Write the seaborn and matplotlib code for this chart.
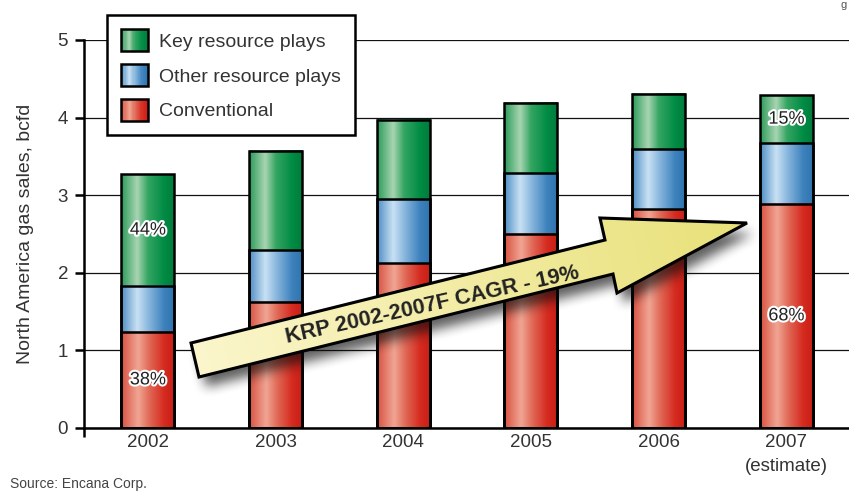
import numpy as np
import pandas as pd
import matplotlib
matplotlib.use("Agg")
import matplotlib.pyplot as plt
import seaborn as sns
from matplotlib.colors import LinearSegmentedColormap, to_rgb
from matplotlib.patches import Polygon, Rectangle, Patch
from matplotlib.legend_handler import HandlerBase
from matplotlib.path import Path
import matplotlib.patheffects as pe
from matplotlib import font_manager

# ---------------- data ----------------
years = ["2002", "2003", "2004", "2005", "2006", "2007"]
year_labels = ["2002", "2003", "2004", "2005", "2006", "2007\n(estimate)"]
conventional = [1.24, 1.63, 2.12, 2.50, 2.82, 2.89]
other_resource = [0.59, 0.66, 0.83, 0.78, 0.77, 0.78]
key_resource = [1.44, 1.28, 1.02, 0.91, 0.72, 0.62]
series_names = ["Key resource plays", "Other resource plays", "Conventional"]
share_years = ["2002", "2002", "2007", "2007"]
share_series = ["Conventional", "Key resource plays", "Conventional", "Key resource plays"]
share_text = ["38%", "44%", "68%", "15%"]
y_ticks = [0, 1, 2, 3, 4, 5]
y_label = "North America gas sales, bcfd"
arrow_text = "KRP 2002-2007F CAGR - 19%"
source_text = "Source: Encana Corp."

# ---------------- style ----------------
sns.set_theme(style="white")
plt.rcParams["font.family"] = ["Liberation Sans", "DejaVu Sans"]
names = {f.name for f in font_manager.fontManager.ttflist}
narrow = "Liberation Sans Narrow" if "Liberation Sans Narrow" in names else None

W, H = 849, 493
fig = plt.figure(figsize=(W / 100, H / 100), dpi=100)
fig.patch.set_facecolor("white")
ax = fig.add_axes([84 / W, 65 / H, (W - 84) / W, 388 / H])

df = pd.DataFrame({"year": years, "conv": conventional,
                   "other": other_resource, "key": key_resource})
df["mid"] = df["conv"] + df["other"]
df["total"] = df["mid"] + df["key"]

cmaps = {
    "Key resource plays": LinearSegmentedColormap.from_list(
        "g", [(0, "#2a9a58"), (0.3, "#a8d5b2"), (0.5, "#35a563"), (0.8, "#008c45"), (1, "#007b3b")]),
    "Other resource plays": LinearSegmentedColormap.from_list(
        "b", [(0, "#4c8dc4"), (0.3, "#c9e1f4"), (0.52, "#86b5dc"), (0.8, "#3d82bd"), (1, "#2f73ad")]),
    "Conventional": LinearSegmentedColormap.from_list(
        "r", [(0, "#d8503f"), (0.32, "#f1a594"), (0.52, "#e16a58"), (0.8, "#d52b20"), (1, "#c61d16")]),
}
cols = [("total", "Key resource plays"), ("mid", "Other resource plays"), ("conv", "Conventional")]

for col, name in cols:
    sns.barplot(data=df, x="year", y=col, color=cmaps[name](0.5), saturation=1,
                width=0.415, edgecolor="black", linewidth=1.8, ax=ax)

grad = np.linspace(0, 1, 256).reshape(1, -1)
n = len(years)
for k, (col, name) in enumerate(cols):
    for p in ax.patches[k * n:(k + 1) * n]:
        x0, y0, w, h = p.get_x(), p.get_y(), p.get_width(), p.get_height()
        ax.imshow(grad, cmap=cmaps[name], extent=(x0, x0 + w, y0, y0 + h),
                  aspect="auto", zorder=2 + 0.1 * k, interpolation="bicubic")
        p.set_facecolor("none")
        p.set_zorder(3)

ax.set_xlim(-0.5, 5.49)
ax.set_ylim(0, 5)
ax.set_yticks(y_ticks)
ax.set_xticks(range(n))
ax.set_xticklabels(year_labels, linespacing=1.55)
ax.set_xlabel("")
ax.set_ylabel(y_label, fontsize=14, color="#333333")
ax.yaxis.set_label_coords(-0.066, 0.5)
ax.yaxis.grid(True, color="#111111", linewidth=0.9)
ax.xaxis.grid(False)
ax.set_axisbelow(True)
for s in ["top", "right"]:
    ax.spines[s].set_visible(False)
for s in ["left", "bottom"]:
    ax.spines[s].set_color("black")
    ax.spines[s].set_linewidth(1.8)
ax.tick_params(axis="y", left=True, length=6.5, width=1.8, color="black",
               pad=5.0, labelsize=13.5, labelcolor="#333333")
ax.tick_params(axis="x", bottom=False, length=0, pad=4, labelsize=13.5, labelcolor="#333333")
ax.plot([0, 0], [-0.024, 0], transform=ax.transAxes, color="black", lw=1.8,
        clip_on=False, solid_capstyle="butt")

# share labels
for yr, ser, txt in zip(share_years, share_series, share_text):
    i = years.index(yr)
    if ser == "Conventional":
        yv = df["conv"][i] / 2
    else:
        yv = df["mid"][i] + df["key"][i] / 2
    ax.text(i, yv, txt, ha="center", va="center", fontsize=13, color="#222222", zorder=6,
            path_effects=[pe.withStroke(linewidth=3, foreground="white")])

# legend with gradient handles
class GradientHandler(HandlerBase):
    def __init__(self, cmap):
        super().__init__()
        self.cmap = cmap

    def create_artists(self, legend, orig_handle, xdescent, ydescent, width, height, fontsize, trans):
        m = 24
        arts = []
        x0, y0 = -xdescent, -ydescent
        for i in range(m):
            arts.append(Rectangle((x0 + i * width / m, y0), width / m * 1.3, height,
                                  facecolor=self.cmap((i + 0.5) / m), edgecolor="none",
                                  transform=trans))
        arts.append(Rectangle((x0, y0), width, height, facecolor="none",
                              edgecolor="black", lw=1.8, transform=trans))
        return arts

handles = [Patch(label=nm) for nm in series_names]
hmap = {h: GradientHandler(cmaps[nm]) for h, nm in zip(handles, series_names)}
leg = ax.legend(handles=handles, labels=series_names, handler_map=hmap,
                loc="upper left", bbox_to_anchor=(107 / W, 1 - 15 / H),
                bbox_transform=fig.transFigure, borderaxespad=0, frameon=True,
                fancybox=False, edgecolor="black", facecolor="white", framealpha=1,
                fontsize=14, handlelength=1.4, handleheight=1.4, handletextpad=0.55,
                labelspacing=0.64, borderpad=0.72)
leg.get_frame().set_linewidth(1.8)
for t in leg.get_texts():
    t.set_color("#333333")
leg.set_zorder(10)

# ---------------- overlay (arrow, notes) ----------------
ov = fig.add_axes([0, 0, 1, 1], zorder=5)
ov.set_xlim(0, W)
ov.set_ylim(H, 0)
ov.axis("off")
ov.patch.set_alpha(0)

pts = np.array([(191, 343), (605, 240), (600, 218), (747, 223),
                (617, 293), (613, 274), (199, 377)], dtype=float)

# soft shadow
yy, xx = np.mgrid[0:H, 0:W]
spath = Path(pts + np.array([7, 10]))
mask = spath.contains_points(np.c_[xx.ravel() + 0.5, yy.ravel() + 0.5]).reshape(H, W).astype(float)

def box_blur(a, r):
    k = np.ones(2 * r + 1) / (2 * r + 1)
    a = np.apply_along_axis(lambda v: np.convolve(v, k, mode="same"), 1, a)
    a = np.apply_along_axis(lambda v: np.convolve(v, k, mode="same"), 0, a)
    return a

blur = box_blur(box_blur(mask, 6), 6)
shadow = np.zeros((H, W, 4))
shadow[..., 0:3] = 0.05
shadow[..., 3] = blur * 0.65
ov.imshow(shadow, extent=(0, W, H, 0), zorder=1, interpolation="bilinear")

# gradient fill clipped to arrow
u = np.array([415.0, -103.0]); u /= np.linalg.norm(u)
proj = ((xx - 191) * u[0] + (yy - 343) * u[1]) / 560.0
proj = np.clip(proj, 0, 1)
c1, c2 = np.array(to_rgb("#fbf6cc")), np.array(to_rgb("#e9e17a"))
fill = c1[None, None, :] * (1 - proj[..., None]) + c2[None, None, :] * proj[..., None]
clip_poly = Polygon(pts, closed=True, transform=ov.transData, facecolor="none", edgecolor="none")
ov.add_patch(clip_poly)
im = ov.imshow(fill, extent=(0, W, H, 0), zorder=2, interpolation="bilinear")
im.set_clip_path(clip_poly)
ov.add_patch(Polygon(pts, closed=True, facecolor="none", edgecolor="black",
                     linewidth=2.2, joinstyle="miter", zorder=3))
ov.text(432, 305, arrow_text, rotation=12.5, rotation_mode="anchor", ha="center",
        va="center", fontsize=15.6, fontweight="bold", color="#222222", zorder=4)

# source note
if narrow:
    ov.text(10, 488, source_text, fontsize=11.5, family=[narrow, "DejaVu Sans"],
            color="#444444", ha="left", va="baseline")
else:
    ov.text(10, 488, source_text, fontsize=10, color="#444444", ha="left", va="baseline")
ov.text(841, 8, "g", fontsize=8, color="#555555", ha="left", va="baseline")

fig.savefig("out.png", dpi=100)
